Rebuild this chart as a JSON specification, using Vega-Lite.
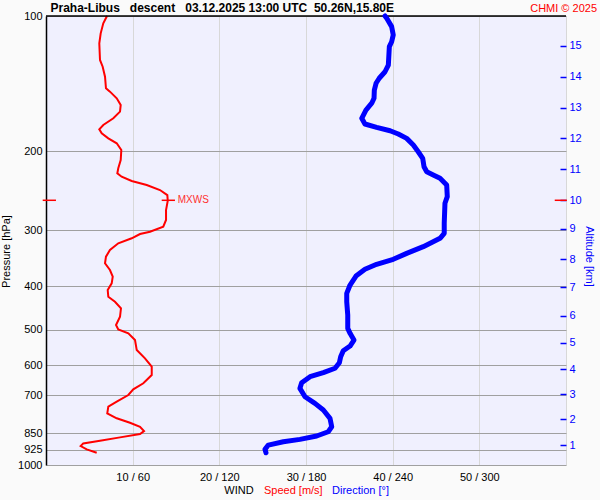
{
  "$schema": "https://vega.github.io/schema/vega-lite/v6.json",
  "width": 520,
  "height": 449,
  "autosize": {"type": "none"},
  "padding": {"left": 46, "top": 16, "right": 34, "bottom": 35},
  "background": "#fafafa",
  "config": {"font": "Liberation Sans", "view": {"fill": "#f0f0fe", "stroke": null}},
  "datasets": {
    "speed": [
      {"p": 100, "speed": 7.04}, {"p": 103.8, "speed": 6.61}, {"p": 109.3, "speed": 6.31}, {"p": 115.0, "speed": 6.15},
      {"p": 125.3, "speed": 6.23}, {"p": 129.7, "speed": 6.54}, {"p": 136.5, "speed": 6.81}, {"p": 144.9, "speed": 6.92},
      {"p": 147.4, "speed": 7.38}, {"p": 152.5, "speed": 8.16}, {"p": 157.8, "speed": 8.62}, {"p": 163.3, "speed": 8.54},
      {"p": 169.0, "speed": 7.77}, {"p": 174.9, "speed": 6.61}, {"p": 178.8, "speed": 6.15}, {"p": 182.5, "speed": 6.43},
      {"p": 187.3, "speed": 7.19}, {"p": 192.1, "speed": 8.16}, {"p": 198.8, "speed": 8.69}, {"p": 209.3, "speed": 8.62},
      {"p": 218.4, "speed": 8.34}, {"p": 224.1, "speed": 8.23}, {"p": 228.0, "speed": 8.73}, {"p": 233.1, "speed": 9.89},
      {"p": 237.9, "speed": 11.62}, {"p": 244.1, "speed": 13.15}, {"p": 250.5, "speed": 14.0}, {"p": 257.8, "speed": 14.05},
      {"p": 270.4, "speed": 13.85}, {"p": 284.6, "speed": 13.85}, {"p": 294.6, "speed": 13.53}, {"p": 302.3, "speed": 12.0},
      {"p": 305.9, "speed": 10.85}, {"p": 312.7, "speed": 9.89}, {"p": 320.8, "speed": 8.34}, {"p": 332.0, "speed": 7.38},
      {"p": 343.6, "speed": 6.92}, {"p": 355.5, "speed": 6.81}, {"p": 367.9, "speed": 7.38}, {"p": 380.7, "speed": 7.70},
      {"p": 393.9, "speed": 7.58}, {"p": 407.6, "speed": 7.12}, {"p": 421.9, "speed": 7.19}, {"p": 433.0, "speed": 7.96},
      {"p": 447.7, "speed": 8.65}, {"p": 467.6, "speed": 8.54}, {"p": 487.9, "speed": 8.08}, {"p": 498.8, "speed": 8.34},
      {"p": 509.1, "speed": 9.50}, {"p": 526.9, "speed": 10.27}, {"p": 554.6, "speed": 10.47}, {"p": 578.7, "speed": 11.42},
      {"p": 604.0, "speed": 12.20}, {"p": 630.3, "speed": 12.20}, {"p": 657.7, "speed": 11.23}, {"p": 678.3, "speed": 10.07},
      {"p": 698.4, "speed": 9.50}, {"p": 722.8, "speed": 8.16}, {"p": 741.6, "speed": 7.19}, {"p": 767.3, "speed": 7.07},
      {"p": 787.1, "speed": 8.16}, {"p": 805.1, "speed": 9.69}, {"p": 821.8, "speed": 10.85}, {"p": 840.2, "speed": 11.31},
      {"p": 853.1, "speed": 10.85}, {"p": 867.9, "speed": 8.54}, {"p": 883.2, "speed": 6.23}, {"p": 895.1, "speed": 4.30},
      {"p": 907.5, "speed": 4.00}, {"p": 922.9, "speed": 4.70}, {"p": 939.1, "speed": 5.85}
    ],
    "direction": [
      {"p": 100, "dir": 234.7}, {"p": 101.2, "dir": 235.9}, {"p": 105.6, "dir": 239.3}, {"p": 110.2, "dir": 240.4},
      {"p": 114.1, "dir": 239.3}, {"p": 117.0, "dir": 237.7}, {"p": 128.6, "dir": 237.0}, {"p": 133.1, "dir": 234.7},
      {"p": 137.6, "dir": 230.7}, {"p": 141.2, "dir": 228.5}, {"p": 146.2, "dir": 227.3}, {"p": 152.5, "dir": 227.1},
      {"p": 156.4, "dir": 225.5}, {"p": 162.0, "dir": 221.5}, {"p": 169.0, "dir": 218.6}, {"p": 174.0, "dir": 220.8},
      {"p": 177.0, "dir": 228.9}, {"p": 180.1, "dir": 238.2}, {"p": 183.2, "dir": 243.9}, {"p": 187.3, "dir": 249.7},
      {"p": 193.8, "dir": 254.3}, {"p": 200.6, "dir": 257.7}, {"p": 207.5, "dir": 260.8}, {"p": 216.6, "dir": 261.7},
      {"p": 222.3, "dir": 263.6}, {"p": 226.0, "dir": 268.1}, {"p": 229.9, "dir": 272.8}, {"p": 237.9, "dir": 277.4},
      {"p": 252.6, "dir": 277.8}, {"p": 261.3, "dir": 276.2}, {"p": 289.5, "dir": 275.7}, {"p": 304.8, "dir": 275.7},
      {"p": 312.7, "dir": 272.8}, {"p": 326.4, "dir": 261.2}, {"p": 337.8, "dir": 249.7}, {"p": 348.3, "dir": 240.4},
      {"p": 357.3, "dir": 228.9}, {"p": 366.6, "dir": 220.8}, {"p": 379.4, "dir": 214.6}, {"p": 397.3, "dir": 210.5},
      {"p": 414.6, "dir": 208.2}, {"p": 433.0, "dir": 208.2}, {"p": 463.4, "dir": 208.9}, {"p": 496.2, "dir": 208.9},
      {"p": 509.1, "dir": 210.5}, {"p": 526.9, "dir": 213.2}, {"p": 543.3, "dir": 210.5}, {"p": 556.5, "dir": 205.8},
      {"p": 574.0, "dir": 204.0}, {"p": 591.9, "dir": 203.1}, {"p": 608.9, "dir": 200.1}, {"p": 622.8, "dir": 192.0},
      {"p": 635.7, "dir": 182.8}, {"p": 655.8, "dir": 177.0}, {"p": 675.0, "dir": 175.8}, {"p": 704.6, "dir": 179.3},
      {"p": 729.1, "dir": 186.2}, {"p": 754.4, "dir": 192.0}, {"p": 787.1, "dir": 196.6}, {"p": 821.8, "dir": 197.8},
      {"p": 843.1, "dir": 195.4}, {"p": 861.9, "dir": 187.4}, {"p": 876.9, "dir": 175.8}, {"p": 887.7, "dir": 164.3},
      {"p": 902.9, "dir": 153.9}, {"p": 922.9, "dir": 151.6}, {"p": 939.1, "dir": 152.3}
    ],
    "mxws": [{"p": 257.3, "speed": 14.1, "label": "MXWS"}]
  },
  "layer": [
    {
      "layer": [
        {
          "data": {"name": "speed"},
          "mark": {"type": "line", "color": "#ff0000", "strokeWidth": 2},
          "encoding": {
            "x": {
              "field": "speed", "type": "quantitative",
              "scale": {"domain": [0, 60], "nice": false, "zero": false},
              "axis": {
                "values": [10, 20, 30, 40, 50, 60],
                "labelExpr": "datum.value < 60 ? datum.value + ' / ' + datum.value * 6 : ''",
                "grid": true, "gridColor": "#d8d8d8", "gridOpacity": 1,
                "ticks": false, "tickSize": 0, "domain": false,
                "labelFontSize": 11, "labelColor": "#000", "labelPadding": 6,
                "labelFlush": false, "labelOverlap": false, "title": null
              }
            },
            "y": {
              "field": "p", "type": "quantitative",
              "scale": {"type": "log", "domain": [100, 1000], "reverse": true, "nice": false},
              "axis": {
                "values": [100, 200, 300, 400, 500, 600, 700, 850, 925, 1000],
                "format": "d",
                "grid": true, "gridColor": "#a0a0a0", "gridOpacity": 1,
                "ticks": false, "tickSize": 0,
                "domainColor": "#000", "domainWidth": 1.5,
                "labelFontSize": 11, "labelColor": "#000", "labelPadding": 4,
                "labelFlush": false, "labelOverlap": false,
                "title": "Pressure [hPa]", "titleFontSize": 11, "titleFontWeight": "normal",
                "titleColor": "#000", "titlePadding": 6, "titleY": 235
              }
            },
            "order": {"field": "p", "type": "quantitative"}
          }
        },
        {
          "data": {"values": [{}]},
          "mark": {"type": "rule", "color": "#000", "strokeWidth": 1.5},
          "encoding": {"y": {"datum": 100}}
        },
        {
          "data": {"name": "mxws"},
          "mark": {"type": "rule", "color": "#ff0000", "strokeWidth": 1.5},
          "encoding": {"x": {"datum": -0.38}, "x2": {"datum": 1.15}, "y": {"field": "p", "type": "quantitative"}}
        },
        {
          "data": {"name": "mxws"},
          "mark": {"type": "rule", "color": "#ff0000", "strokeWidth": 1.5},
          "encoding": {"x": {"datum": 58.7}, "x2": {"datum": 60.1}, "y": {"field": "p", "type": "quantitative"}}
        },
        {
          "data": {"name": "mxws"},
          "mark": {"type": "rule", "color": "#ff0000", "strokeWidth": 1.5},
          "encoding": {"x": {"datum": 13.35}, "x2": {"datum": 14.88}, "y": {"field": "p", "type": "quantitative"}}
        },
        {
          "data": {"name": "mxws"},
          "mark": {"type": "text", "align": "left", "baseline": "middle", "fontSize": 10, "color": "#ff3030"},
          "encoding": {"x": {"datum": 15.2}, "y": {"field": "p", "type": "quantitative"}, "text": {"field": "label"}}
        },
        {
          "data": {"values": [{}]},
          "mark": {"type": "text", "align": "left", "baseline": "alphabetic", "fontSize": 12, "fontWeight": "bold", "color": "#000", "dx": 4.5, "dy": -4},
          "encoding": {"x": {"datum": 0}, "y": {"datum": 100}, "text": {"value": "Praha-Libus\u00a0\u00a0\u00a0descent\u00a0\u00a0\u00a003.12.2025 13:00 UTC\u00a0\u00a050.26N,15.80E"}}
        },
        {
          "data": {"values": [{}]},
          "mark": {"type": "text", "align": "right", "baseline": "alphabetic", "fontSize": 11, "color": "#ff0000", "dx": 31, "dy": -4},
          "encoding": {"x": {"datum": 60}, "y": {"datum": 100}, "text": {"value": "CHMI © 2025"}}
        },
        {
          "data": {"values": [{}]},
          "mark": {"type": "text", "align": "center", "baseline": "middle", "fontSize": 11, "color": "#000", "dy": 26},
          "encoding": {"x": {"datum": 22.27}, "y": {"datum": 1000}, "text": {"value": "WIND"}}
        },
        {
          "data": {"values": [{}]},
          "mark": {"type": "text", "align": "left", "baseline": "middle", "fontSize": 11, "color": "#ff0000", "dy": 26},
          "encoding": {"x": {"datum": 25.15}, "y": {"datum": 1000}, "text": {"value": "Speed [m/s]"}}
        },
        {
          "data": {"values": [{}]},
          "mark": {"type": "text", "align": "left", "baseline": "middle", "fontSize": 11, "color": "#0000ff", "dy": 26},
          "encoding": {"x": {"datum": 33.0}, "y": {"datum": 1000}, "text": {"value": "Direction [°]"}}
        }
      ]
    },
    {
      "data": {"name": "direction"},
      "mark": {"type": "line", "color": "#0000ff", "strokeWidth": 5, "strokeCap": "round", "strokeJoin": "round"},
      "encoding": {
        "x": {"field": "dir", "type": "quantitative", "scale": {"domain": [0, 360], "nice": false, "zero": false}, "axis": null},
        "y": {
          "field": "p", "type": "quantitative",
          "scale": {"type": "log", "domain": [100, 1000], "reverse": true, "nice": false},
          "axis": {
            "orient": "right",
            "values": [903, 791, 696, 612, 534, 465, 402, 347.7, 298.1, 257.3, 219.5, 187.3, 160.1, 136.5, 116.6],
            "labelExpr": "datum.value > 850 ? '1' : datum.value > 740 ? '2' : datum.value > 650 ? '3' : datum.value > 570 ? '4' : datum.value > 500 ? '5' : datum.value > 430 ? '6' : datum.value > 375 ? '7' : datum.value > 320 ? '8' : datum.value > 280 ? '9' : datum.value > 240 ? '10' : datum.value > 200 ? '11' : datum.value > 170 ? '12' : datum.value > 150 ? '13' : datum.value > 125 ? '14' : '15'",
            "grid": false, "domain": false,
            "tickColor": "#0000ff", "tickSize": 6, "tickWidth": 1.5, "offset": -6,
            "labelColor": "#0000ff", "labelFontSize": 11, "labelPadding": 3,
            "labelFlush": false, "labelOverlap": false,
            "title": "Altitude [km]", "titleColor": "#0000ff", "titleFontSize": 11,
            "titleFontWeight": "normal", "titlePadding": 2, "titleY": 240
          }
        },
        "order": {"field": "p", "type": "quantitative"}
      }
    }
  ],
  "resolve": {"scale": {"x": "independent", "y": "shared"}, "axis": {"x": "independent", "y": "independent"}}
}
